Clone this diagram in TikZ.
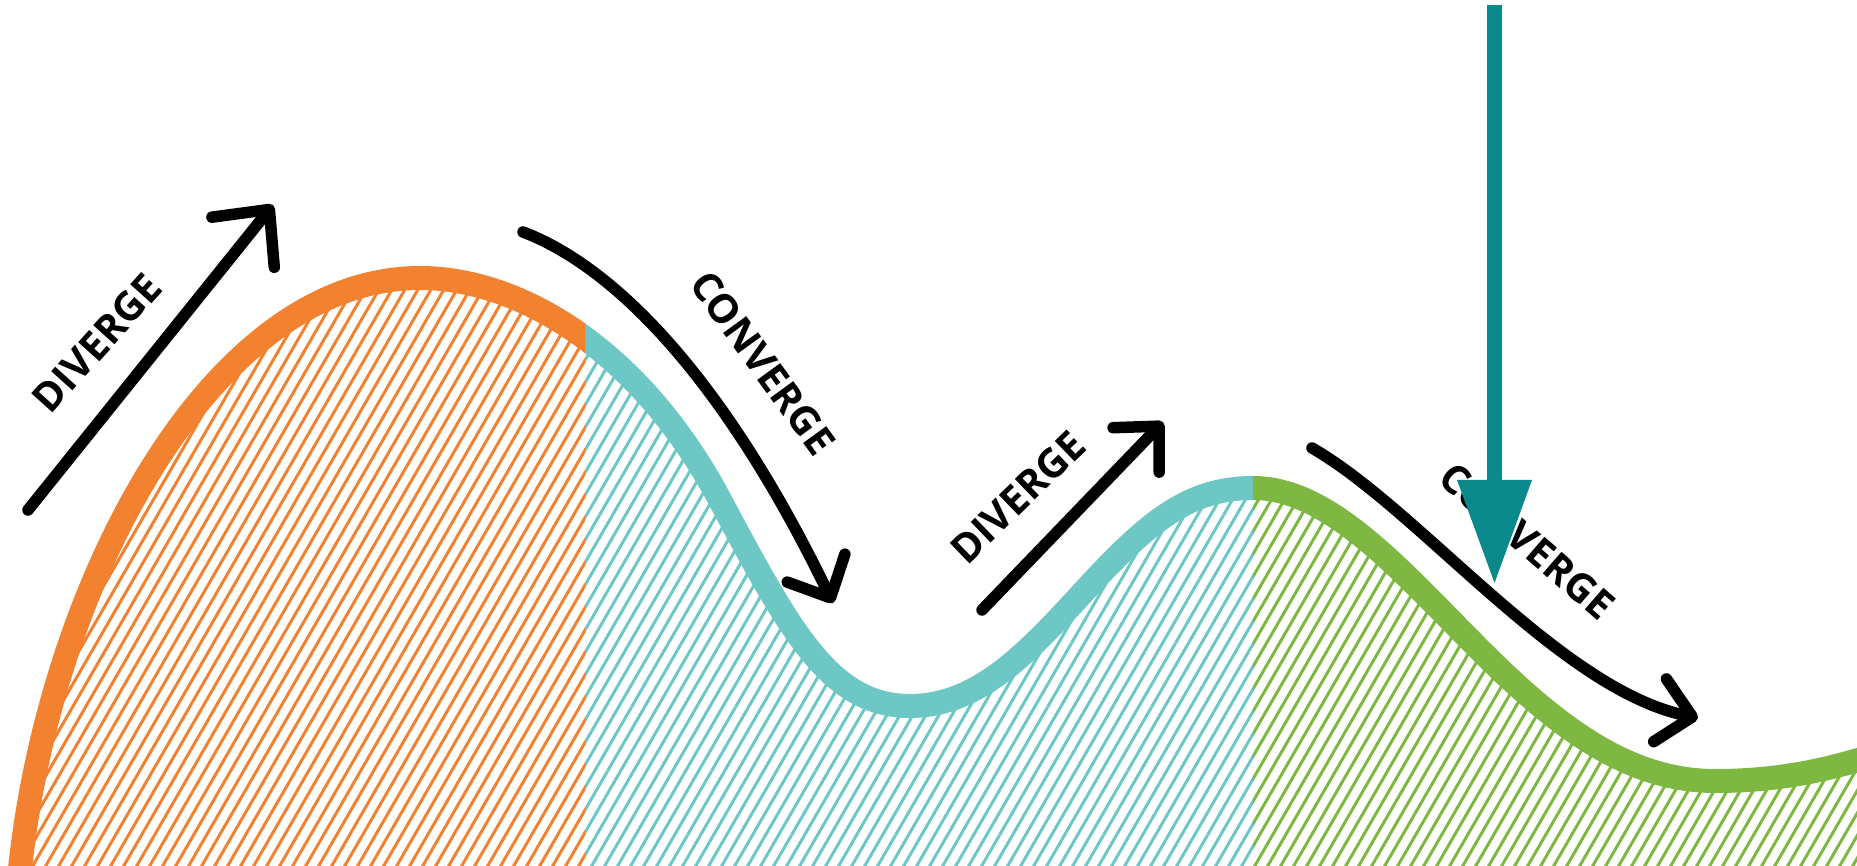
\documentclass[tikz,border=0pt]{standalone}
\usepackage{fontspec}
\setmainfont{Open Sans}
\usepackage{xcolor}
\usepackage{tikz}
\usetikzlibrary{arrows.meta}

\definecolor{curveorange}{RGB}{242,130,48}
\definecolor{curveteal}{RGB}{109,199,197}
\definecolor{curvegreen}{RGB}{126,184,67}
\definecolor{pointerteal}{RGB}{10,137,139}

\newcommand{\wavepath}{(18,890) .. controls (42,600) and (205,278) .. (420,278)
  .. controls (520,278) and (640,350) .. (720,500)
  .. controls (790,631) and (830,706) .. (910,706)
  .. controls (980,706) and (1030,650) .. (1088,587)
  .. controls (1150,520) and (1190,488) .. (1253,488)
  .. controls (1330,488) and (1400,570) .. (1480,650)
  .. controls (1560,730) and (1630,781) .. (1715,781)
  .. controls (1780,781) and (1830,770) .. (1890,750)}

\begin{document}
\begin{tikzpicture}[x=0.1mm,y=-0.1mm,
  wave/.style={line width=2.4mm},
  hatchline/.style={line width=0.3mm},
  flowarrow/.style={line width=1.15mm,line cap=round,line join=round,
    -{Straight Barb[length=3.3mm,width=6.4mm,round]}},
  bigflowarrow/.style={flowarrow,-{Straight Barb[length=4.2mm,width=8mm,round]}},
  pointer/.style={line width=1.5mm,draw=pointerteal,
    -{Triangle[length=10.3mm,width=7.5mm,line width=0pt]}},
  phase/.style={font=\fontsize{11.4}{12}\selectfont\bfseries,inner sep=0pt}]
  \useasboundingbox (0,0) rectangle (1857,866);
  \clip (0,0) rectangle (1857,866);

  \begin{scope}
    \clip \wavepath -- (1890,900) -- (0,900) -- cycle;
    \begin{scope}
      \clip (0,0) rectangle (585,900);
      \foreach \k in {-32,...,46}
        \draw[hatchline,curveorange] (\k*13,900) -- ++(370,-640);
    \end{scope}
    \begin{scope}
      \clip (585,0) rectangle (1253,900);
      \foreach \k in {15,...,98}
        \draw[hatchline,curveteal] (\k*13,900) -- ++(370,-640);
    \end{scope}
    \begin{scope}
      \clip (1253,0) rectangle (1890,900);
      \foreach \k in {65,...,147}
        \draw[hatchline,curvegreen] (\k*13,900) -- ++(370,-640);
    \end{scope}
  \end{scope}

  \begin{scope}
    \clip (0,0) rectangle (585,900);
    \draw[wave,curveorange] \wavepath;
  \end{scope}
  \begin{scope}
    \clip (585,0) rectangle (1253,900);
    \draw[wave,curveteal] \wavepath;
  \end{scope}
  \begin{scope}
    \clip (1253,0) rectangle (1890,900);
    \draw[wave,curvegreen] \wavepath;
  \end{scope}

  \coordinate (div1 start) at (28,510);
  \coordinate (div1 end) at (273,205);
  \coordinate (con1 start) at (523,232);
  \coordinate (con1 end) at (833,603);
  \coordinate (div2 start) at (982,610);
  \coordinate (div2 end) at (1163,422);
  \coordinate (con2 start) at (1312,448);
  \coordinate (con2 end) at (1698,718);

  \draw[bigflowarrow] (div1 start) -- (div1 end);
  \draw[flowarrow] (con1 start) .. controls (610,265) and (720,370) .. (con1 end);
  \draw[flowarrow] (div2 start) -- (div2 end);
  \draw[flowarrow] (con2 start) .. controls (1420,510) and (1560,690) .. (con2 end);

  \node[phase,rotate=48] (diverge1) at (97,343) {DIVERGE};
  \node[phase,rotate=-54] (converge1) at (763,363) {CONVERGE};
  \node[phase,rotate=44] (diverge2) at (1018,497) {DIVERGE};
  \node[phase,rotate=-41] (converge2) at (1527,541) {CONVERGE};

  \coordinate (pin top) at (1494.5,5);
  \coordinate (pin tip) at (1494.5,583);
  \draw[pointer] (pin top) -- (pin tip);
\end{tikzpicture}
\end{document}
